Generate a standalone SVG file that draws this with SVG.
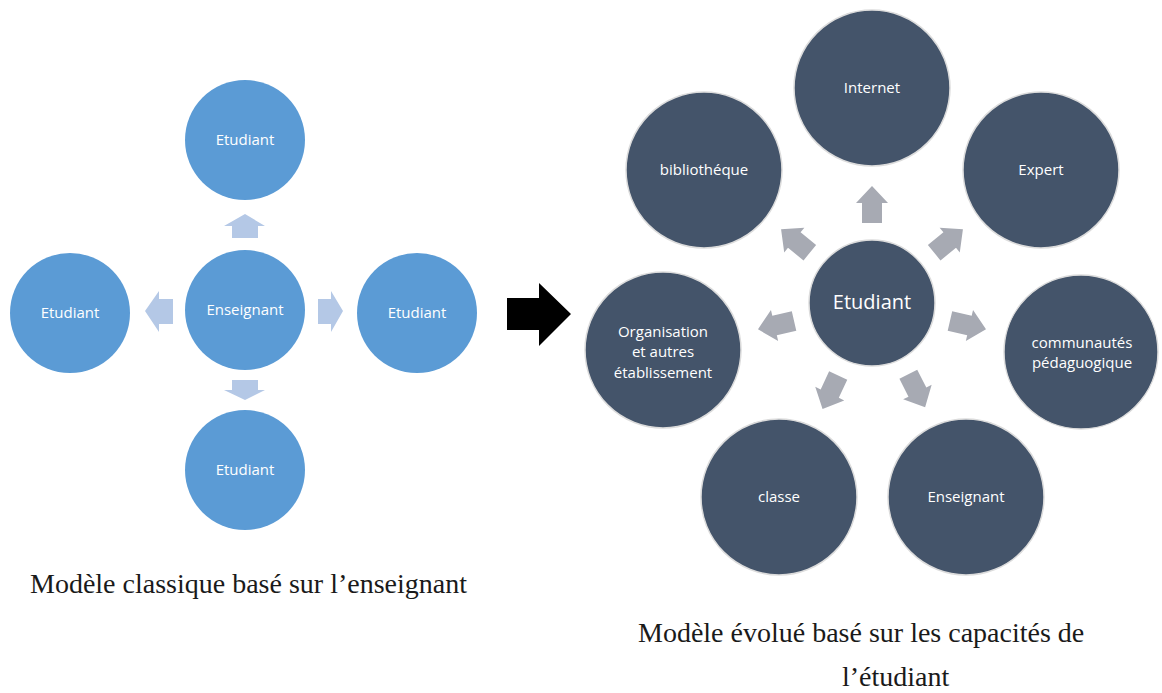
<svg xmlns="http://www.w3.org/2000/svg" width="1162" height="693" viewBox="0 0 1162 693">
<style>
.bn{fill:#5b9bd5}
.dn{fill:#44546a;stroke:#dcdcdc;stroke-width:1.5}
.la{fill:#b4c8e6}
.ga{fill:#a7aab3}
.t{font-family:"Open Sans","Noto Sans",sans-serif;font-size:15px;fill:#ffffff;text-anchor:middle}
.tc{font-family:"Open Sans","Noto Sans",sans-serif;font-size:20px;fill:#ffffff;text-anchor:middle}
.cap{font-family:"Liberation Serif","Times New Roman",serif;font-size:28px;fill:#1a1a1a}
</style>
<defs>
<polygon id="ga" points="80,-10 100,-10 100,-16 117,0 100,16 100,10 80,10"/>
</defs>
<rect width="1162" height="693" fill="#ffffff"/>

<g id="connectors">
<polygon class="la" points="232,238 232,226 224,226 245,214 265,226 258,226 258,238"/>
<polygon class="la" points="173,299 159,299 159,291 145,311 159,332 159,324 173,324"/>
<polygon class="la" points="318,299 331,299 331,291 343,311 331,332 331,324 318,324"/>
<polygon class="la" points="232,380 258,380 258,390 265,390 245,400 224,390 232,390"/>
<polygon fill="#000000" points="507,298 539,298 539,283 571,314 539,346 539,330 507,330"/>
<g class="ga" transform="translate(872,303)">
<use href="#ga" transform="rotate(-90)"/>
<use href="#ga" transform="rotate(-141)"/>
<use href="#ga" transform="rotate(-39)"/>
<use href="#ga" transform="rotate(13)"/>
<use href="#ga" transform="rotate(167)"/>
<use href="#ga" transform="rotate(115)"/>
<use href="#ga" transform="rotate(63)"/>
</g>
</g>

<g id="l-enseignant"><circle class="bn" cx="245" cy="310" r="60"/><text class="t" x="245" y="315">Enseignant</text></g>
<g id="l-etudiant-top"><circle class="bn" cx="245" cy="140" r="60"/><text class="t" x="245" y="145">Etudiant</text></g>
<g id="l-etudiant-left"><circle class="bn" cx="70" cy="313" r="60"/><text class="t" x="70" y="318">Etudiant</text></g>
<g id="l-etudiant-right"><circle class="bn" cx="417" cy="313" r="60"/><text class="t" x="417" y="318">Etudiant</text></g>
<g id="l-etudiant-bottom"><circle class="bn" cx="245" cy="470" r="60"/><text class="t" x="245" y="475">Etudiant</text></g>

<g id="r-etudiant"><circle class="dn" cx="872" cy="303" r="63"/><text class="tc" x="872" y="309">Etudiant</text></g>
<g id="r-internet"><circle class="dn" cx="872" cy="88" r="78"/><text class="t" x="872" y="93">Internet</text></g>
<g id="r-bibliotheque"><circle class="dn" cx="704" cy="170" r="78"/><text class="t" x="704" y="175">bibliothéque</text></g>
<g id="r-expert"><circle class="dn" cx="1041" cy="170" r="78"/><text class="t" x="1041" y="175">Expert</text></g>
<g id="r-organisation"><circle class="dn" cx="663" cy="350" r="78"/><text class="t" x="663" y="337">Organisation</text><text class="t" x="663" y="357">et autres</text><text class="t" x="663" y="378">établissement</text></g>
<g id="r-communautes"><circle class="dn" cx="1081" cy="352" r="77"/><text class="t" x="1082" y="348">communautés</text><text class="t" x="1082" y="368">pédaguogique</text></g>
<g id="r-classe"><circle class="dn" cx="779" cy="497" r="78"/><text class="t" x="779" y="502">classe</text></g>
<g id="r-enseignant"><circle class="dn" cx="966" cy="497" r="78"/><text class="t" x="966" y="502">Enseignant</text></g>

<text class="cap" x="30" y="593">Modèle classique basé sur l’enseignant</text>
<text class="cap" x="638" y="642">Modèle évolué basé sur les capacités de</text>
<text class="cap" x="842" y="686">l’étudiant</text>
</svg>
